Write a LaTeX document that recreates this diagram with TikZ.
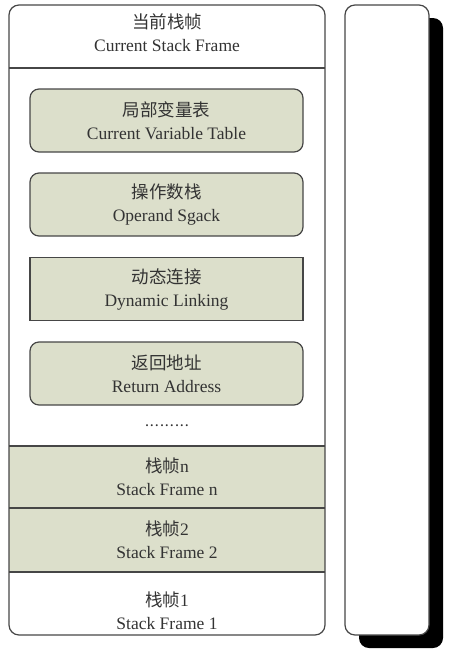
\documentclass[tikz,border=0pt]{standalone}
\usepackage{fontspec}
\setmainfont{Liberation Serif}
\newfontfamily\cjk{Noto Sans CJK SC}
\usepackage{tikz}
\usetikzlibrary{positioning}
\definecolor{framecol}{RGB}{220,223,203}
\definecolor{linecol}{RGB}{70,70,70}

\tikzset{
  txt/.style={font=\fontsize{17.5}{23}\selectfont, align=center, text=black!80},
  partbox/.style={txt, draw=linecol, line width=1.2pt, fill=framecol,
    minimum width=273pt, minimum height=63pt, inner sep=0pt},
  roundbox/.style={partbox, rounded corners=9pt},
}

\begin{document}
\begin{tikzpicture}[x=1pt, y=-1pt]
  \useasboundingbox (0,0) rectangle (451,659);
  % right column with its shadow
  \fill[black, rounded corners=10pt] (359,18) rectangle (443,648);
  \draw[linecol, line width=1.2pt, fill=white, rounded corners=10pt] (345,5) rectangle (429,635);
  % stacked frames at the bottom
  \fill[framecol] (9,446) rectangle (325,572);
  \draw[linecol, line width=1.2pt, rounded corners=10pt] (9,5) rectangle (325,635);
  \foreach \y in {68, 446, 508, 572}{
    \draw[linecol, line width=1.2pt] (9,\y) -- (325,\y);
  }
  \node[txt] (cur) at (167,33) {{\cjk 当前栈帧}\\Current Stack Frame};
  % parts of the current frame
  \node[roundbox] (locals) at (166.5,120.5) {{\cjk 局部变量表}\\Current Variable Table};
  \node[roundbox] (operand) at (166.5,204.5) {{\cjk 操作数栈}\\Operand Sgack};
  \node[partbox] (dynlink) at (166.5,289) {{\cjk 动态连接}\\Dynamic Linking};
  \node[roundbox] (retaddr) at (166.5,373.5) {{\cjk 返回地址}\\Return Address};
  \node[txt, font=\bfseries\fontsize{12}{14}\selectfont] (dots) at (167,426) {.\,.\,.\,.\,.\,.\,.\,.\,.};
  \foreach \n/\y in {n/477, 2/540, 1/611}{
    \node[txt] (frame\n) at (167,\y) {{\cjk 栈帧}\n\\Stack Frame \n};
  }
\end{tikzpicture}
\end{document}
